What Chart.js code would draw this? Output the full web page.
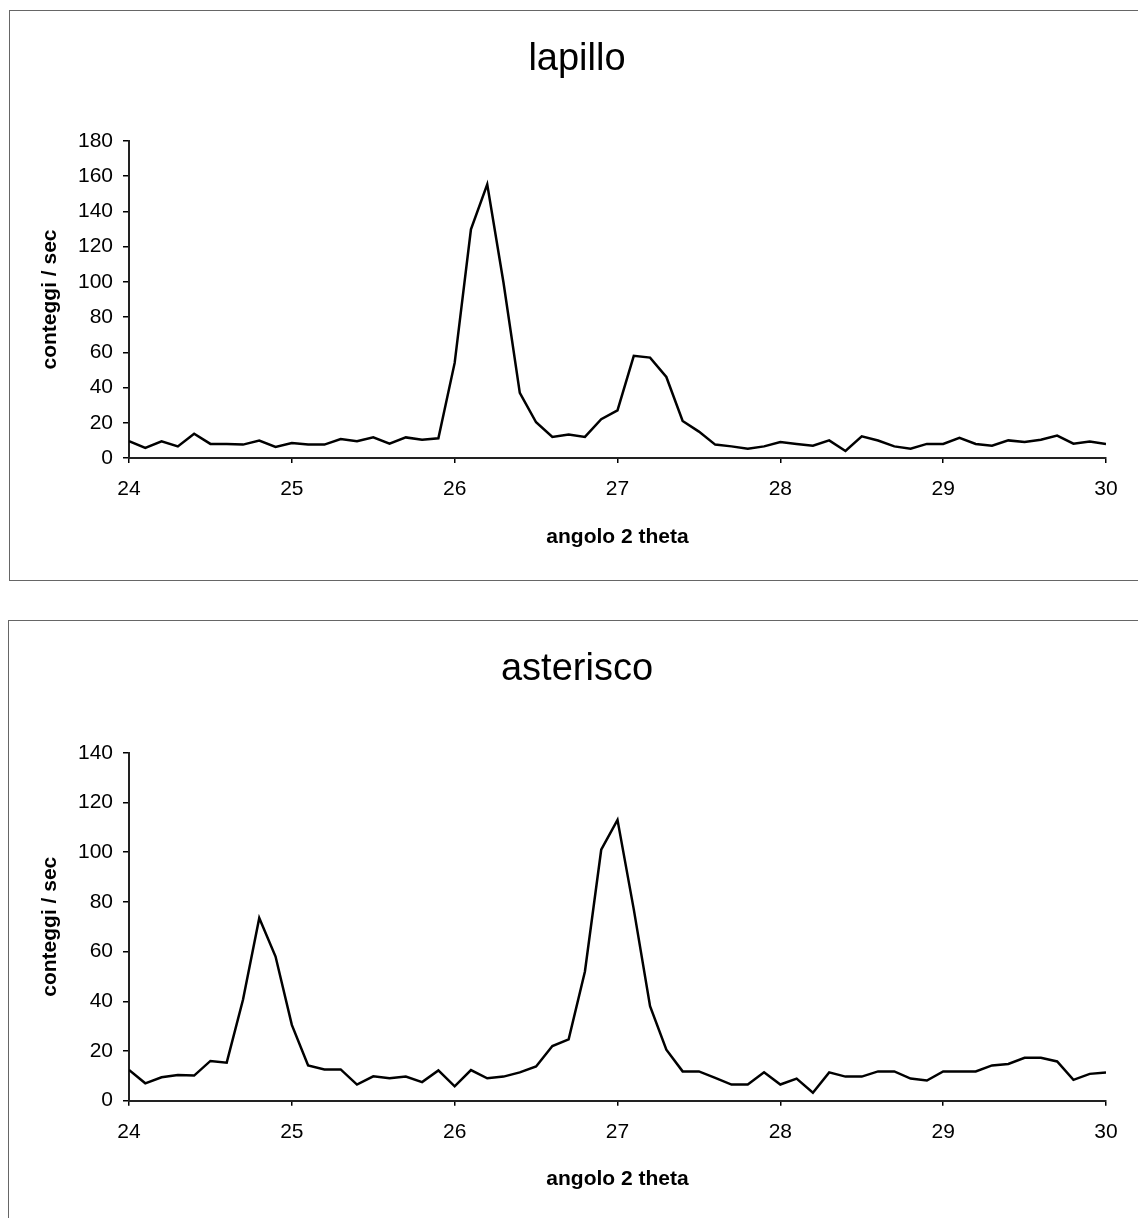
<!DOCTYPE html>
<html><head><meta charset="utf-8">
<script src="https://cdn.jsdelivr.net/npm/chart.js@4.4.1/dist/chart.umd.min.js"></script>
<style>
html,body{margin:0;padding:0;background:#fff;width:1138px;height:1218px;overflow:hidden;position:relative}
.box{position:absolute;border:1px solid #666;}
#b1{left:9px;top:10px;width:1140px;height:569px;}
#b2{left:8px;top:620px;width:1140px;height:620px;}
canvas{position:absolute;left:0}
#c1{top:0}
#c2{top:610px}
</style></head>
<body>
<div class="box" id="b1"></div><div class="box" id="b2"></div>
<canvas id="c1" width="1138" height="600"></canvas>
<canvas id="c2" width="1138" height="608"></canvas>
<script>
// angle 2 theta (x values)
const angles = [24.0,24.1,24.2,24.3,24.4,24.5,24.6,24.7,24.8,24.9,
                25.0,25.1,25.2,25.3,25.4,25.5,25.6,25.7,25.8,25.9,
                26.0,26.1,26.2,26.3,26.4,26.5,26.6,26.7,26.8,26.9,
                27.0,27.1,27.2,27.3,27.4,27.5,27.6,27.7,27.8,27.9,
                28.0,28.1,28.2,28.3,28.4,28.5,28.6,28.7,28.8,28.9,
                29.0,29.1,29.2,29.3,29.4,29.5,29.6,29.7,29.8,29.9,30.0];
// conteggi / sec - lapillo
const lapillo = [9.5,5.7,9.5,6.6,13.8,8,8,7.6,9.9,6.3,
                 8.5,7.6,7.6,10.8,9.5,11.7,8.1,11.7,10.4,11.2,
                 54,129.8,155.4,99.5,37,20.3,12,13.3,12,22,
                 27,58,57,46,21,15,7.6,6.6,5.3,6.6,
                 9.1,8,7,10,4,12.3,9.9,6.6,5.3,8,
                 8,11.4,8,7,10,9.1,10.4,12.7,8.1,9.3,8];
// conteggi / sec - asterisco
const asterisco = [12.4,7,9.4,10.3,10.1,16,15.3,40.6,73.5,58,
                   30.5,14.2,12.6,12.6,6.5,9.8,9,9.7,7.5,12.2,
                   5.8,12.3,9,9.7,11.4,13.8,22,24.7,52,101,
                   113,77,38,20.5,11.8,11.8,9.2,6.5,6.5,11.4,
                   6.5,8.9,3.2,11.4,9.7,9.7,11.8,11.8,8.9,8.1,
                   11.8,11.8,11.8,14.2,14.8,17.3,17.3,15.8,8.4,10.8,11.4];
const titles = ['lapillo', 'asterisco'];
const xTitle = 'angolo 2 theta';
const yTitle = 'conteggi / sec';
const xRange = [24, 30];
const yMaxes = [180, 140];

const FONT = "'Liberation Sans', Arial, sans-serif";
Chart.defaults.font.family = FONT;
Chart.defaults.color = '#000';

function makeChart(id, title, values, yMax, L) {
  return new Chart(document.getElementById(id), {
    type: 'line',
    data: {
      labels: angles,
      datasets: [{
        data: values,
        borderColor: '#000',
        borderWidth: 2.5,
        pointRadius: 0,
        tension: 0,
        fill: false
      }]
    },
    options: {
      responsive: false,
      animation: false,
      layout: { padding: { left: 48, right: 32, top: 0, bottom: 0 } },
      plugins: {
        legend: { display: false },
        tooltip: { enabled: false },
        title: {
          display: true,
          text: title,
          color: '#000',
          font: { family: FONT, size: 38, weight: 'normal', lineHeight: 1.2 },
          padding: { top: L.tTop, bottom: L.tBottom }
        }
      },
      scales: {
        x: {
          type: 'linear',
          min: xRange[0], max: xRange[1],
          ticks: { stepSize: 1, font: { size: 21 }, color: '#000', padding: 13.6, maxRotation: 0 },
          grid: { drawOnChartArea: false, tickLength: 5, color: '#000', lineWidth: 1.5 },
          border: { display: true, color: '#222', width: 2 },
          title: { display: true, text: xTitle, color: '#000',
                   font: { family: FONT, size: 21, weight: 'bold', lineHeight: 1.2 },
                   padding: { top: 0, bottom: L.xtBottom } },
          afterFit: (s) => { s.height = L.xH; }
        },
        y: {
          min: 0, max: yMax,
          ticks: { stepSize: 20, font: { size: 21 }, color: '#000', padding: 10 },
          grid: { drawOnChartArea: false, tickLength: 6, color: '#000', lineWidth: 1.5 },
          border: { display: true, color: '#222', width: 2 },
          title: { display: true, text: yTitle, color: '#000',
                   font: { family: FONT, size: 21, weight: 'bold', lineHeight: 1.2 },
                   padding: { top: -10.6, bottom: 0 } },
          afterFit: (s) => { s.width = 81; }
        }
      }
    }
  });
}

makeChart('c1', titles[0], lapillo, yMaxes[0], { tTop: 37.2, tBottom: 58.2, xH: 142, xtBottom: 50.4 });
makeChart('c2', titles[1], asterisco, yMaxes[1], { tTop: 37.2, tBottom: 60, xH: 117.3, xtBottom: 26.4 });
</script>
</body></html>
